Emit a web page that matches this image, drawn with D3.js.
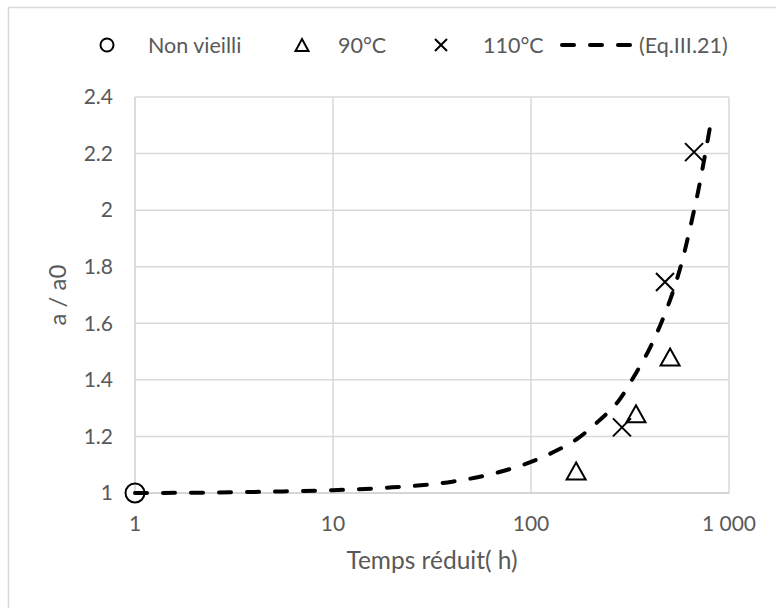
<!DOCTYPE html>
<html><head><meta charset="utf-8">
<script src="https://cdn.jsdelivr.net/npm/d3@7"></script>
<style>body{margin:0;background:#fff}svg{display:block}text{font-family:Lato,"Open Sans",sans-serif;fill:#595959}</style>
</head><body>
<svg id="c" width="776" height="608"></svg>
<script>
// Data
const nonVieilliT = [1];
const nonVieilliY = [1.0];
const t90 = [169, 339, 504];
const y90 = [1.078, 1.28, 1.481];
const t110 = [288, 475, 666];
const y110 = [1.232, 1.746, 2.205];
const eqT = [1, 2, 5, 10, 20, 40, 70, 100, 130, 170, 220, 280, 330, 400, 460, 520, 590, 640, 700, 750, 800];
const eqY = [1.0, 1.001, 1.005, 1.01, 1.02, 1.04, 1.075, 1.11, 1.145, 1.19, 1.255, 1.33, 1.41, 1.515, 1.61, 1.71, 1.84, 1.945, 2.07, 2.18, 2.29];
const xTicks = [1, 10, 100, 1000];
const xTickLabels = ["1", "10", "100", "1 000"];
const yTicks = [1, 1.2, 1.4, 1.6, 1.8, 2, 2.2, 2.4];
const yTickLabels = ["1", "1.2", "1.4", "1.6", "1.8", "2", "2.2", "2.4"];
const legendLabels = ["Non vieilli", "90°C", "110°C", "(Eq.III.21)"];
const xTitle = "Temps réduit( h)";
const yTitle = "a / a0";

const svg = d3.select("#c");
const L = 135, R = 729, T = 97, B = 493;
const x = d3.scaleLog().domain([1, 1000]).range([L, R]);
const y = d3.scaleLinear().domain([1, 2.4]).range([B, T]);

// chart border
svg.append("rect").attr("x", 8.5).attr("y", 7.5).attr("width", 820).attr("height", 700)
  .attr("fill", "#fff").attr("stroke", "#d9d9d9").attr("stroke-width", 1.5);

// gridlines
const grid = svg.append("g");
grid.selectAll(".hy").data(yTicks.slice(1)).join("line")
  .attr("x1", L).attr("x2", R).attr("y1", d => y(d)).attr("y2", d => y(d))
  .attr("stroke", "#d9d9d9").attr("stroke-width", 1.5);
grid.selectAll(".vx").data(xTicks.slice(1)).join("line")
  .attr("x1", d => x(d)).attr("x2", d => x(d)).attr("y1", T).attr("y2", B)
  .attr("stroke", "#d9d9d9").attr("stroke-width", 1.5);
// axis lines
svg.append("line").attr("x1", L).attr("x2", L).attr("y1", T).attr("y2", B).attr("stroke", "#d0d0d0").attr("stroke-width", 1.5);
svg.append("line").attr("x1", L).attr("x2", R).attr("y1", B).attr("y2", B).attr("stroke", "#c8c8c8").attr("stroke-width", 1.5);

// tick labels
svg.selectAll(".yl").data(yTicks).join("text")
  .attr("x", 113).attr("y", d => y(d)).attr("dy", "0.35em").attr("text-anchor", "end")
  .attr("font-size", 21).text((d, i) => yTickLabels[i]);
svg.selectAll(".xl").data(xTicks).join("text")
  .attr("x", d => x(d)).attr("y", 524).attr("dy", "0.35em").attr("text-anchor", "middle")
  .attr("font-size", 21).text((d, i) => xTickLabels[i]);

// titles
svg.append("text").attr("x", (L + R) / 2).attr("y", 560).attr("dy", "0.35em").attr("text-anchor", "middle")
  .attr("font-size", 24.5).text(xTitle);
svg.append("text").attr("transform", `translate(66,${(T + B) / 2}) rotate(-90)`).attr("text-anchor", "middle")
  .attr("font-size", 24).text(yTitle);

// curve
const line = d3.line().x((d, i) => x(eqT[i])).y((d, i) => y(eqY[i])).curve(d3.curveMonotoneX);
svg.append("path").datum(eqT).attr("d", line).attr("fill", "none").attr("stroke", "#000")
  .attr("stroke-width", 4).attr("stroke-dasharray", "12,16").attr("stroke-linecap", "round");

// markers
function tri(g, cx, cy, w, h) {
  g.append("path").attr("d", `M${cx},${cy - h / 2}L${cx + w / 2},${cy + h / 2}L${cx - w / 2},${cy + h / 2}Z`)
    .attr("fill", "none").attr("stroke", "#000").attr("stroke-width", 2);
}
function cross(g, cx, cy, s) {
  g.append("path").attr("d", `M${cx - s},${cy - s}L${cx + s},${cy + s}M${cx - s},${cy + s}L${cx + s},${cy - s}`)
    .attr("stroke", "#000").attr("stroke-width", 2);
}
const m = svg.append("g");
nonVieilliT.forEach((t, i) => m.append("circle").attr("cx", x(t)).attr("cy", y(nonVieilliY[i])).attr("r", 9.5)
  .attr("fill", "none").attr("stroke", "#000").attr("stroke-width", 2));
t90.forEach((t, i) => tri(m, x(t), y(y90[i]), 19, 17));
t110.forEach((t, i) => cross(m, x(t), y(y110[i]), 9));

// legend
const lg = svg.append("g");
const ly = 45;
lg.append("circle").attr("cx", 107).attr("cy", ly).attr("r", 6.5).attr("fill", "none").attr("stroke", "#000").attr("stroke-width", 2);
lg.append("text").attr("x", 148).attr("y", ly).attr("dy", "0.35em").attr("font-size", 21.5).text(legendLabels[0]);
tri(lg, 302, ly, 13, 12);
lg.append("text").attr("x", 338).attr("y", ly).attr("dy", "0.35em").attr("font-size", 21.5).text(legendLabels[1]);
cross(lg, 441, ly, 6);
lg.append("text").attr("x", 483).attr("y", ly).attr("dy", "0.35em").attr("font-size", 21.5).text(legendLabels[2]);
lg.append("line").attr("x1", 562).attr("x2", 637).attr("y1", ly).attr("y2", ly).attr("stroke", "#000")
  .attr("stroke-width", 4).attr("stroke-dasharray", "12,16").attr("stroke-linecap", "round");
lg.append("text").attr("x", 639).attr("y", ly).attr("dy", "0.35em").attr("font-size", 21.5).text(legendLabels[3]);
</script>
</body></html>
